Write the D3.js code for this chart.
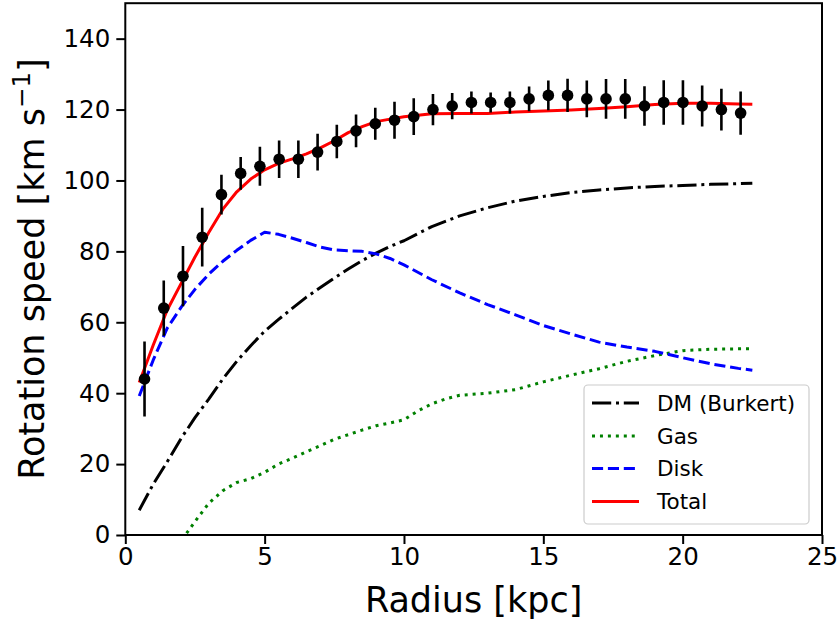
<!DOCTYPE html>
<html><head><meta charset="utf-8">
<script src="https://cdn.jsdelivr.net/npm/d3@7"></script>
<style>body{margin:0;background:#fff;} svg{display:block;font-family:"DejaVu Sans",sans-serif;}</style>
</head><body>
<script>
// Observed data
const obsR = [0.69,1.38,2.07,2.76,3.45,4.14,4.83,5.52,6.21,6.90,7.59,8.28,8.97,9.66,10.35,11.04,11.73,12.42,13.11,13.80,14.49,15.18,15.87,16.56,17.25,17.94,18.63,19.32,20.01,20.70,21.39,22.08];
const obsV = [44,64,73,84,96,102,104,106,106,108,111,114,116,117,118,120,121,122,122,122,123,124,124,123,123,123,121,122,122,121,120,119];
const obsErr = [10.6,7.8,8.5,8.3,5.6,4.6,5.5,5.3,5.3,5.2,4.7,4.6,4.5,5.2,5.2,4.4,3.7,3.1,2.8,3.1,3.5,4.2,4.7,5.2,5.6,5.6,5.6,6.3,6.3,5.8,5.9,6.1];

// Model curves
const modelR = [0.5,1.0,1.5,2.0,2.5,3.0,3.5,4.0,4.5,5.0,5.5,6.0,6.5,7.0,7.5,8.0,8.5,9.0,9.5,10,11,12,13,14,15,16,17,18,19,20,21,22,22.5];
const vDM    = [7.0,14.3,20.6,27.2,33.1,38.4,44.0,49.0,53.4,57.5,60.8,64.0,67.1,69.8,72.5,75.0,77.4,79.5,81.4,83.0,87.0,90.0,92.3,94.2,95.5,96.6,97.3,97.9,98.3,98.6,98.9,99.1,99.2];
const vDisk  = [39.2,49.3,58.3,64.2,69.3,73.6,77.2,80.3,83.1,85.4,84.8,83.7,82.5,81.2,80.4,80.2,80.0,79.3,78.0,76.2,72.0,68.3,65.0,62.1,59.1,56.7,54.4,53.0,51.8,50.0,48.3,47.0,46.5];
const vTotal = [43.0,53.5,63.4,70.9,78.4,85.4,91.9,96.8,100.4,103.0,104.8,106.1,107.5,109.2,111.2,113.5,115.2,116.6,117.3,118.0,118.8,118.9,118.9,119.3,119.6,119.9,120.3,120.8,121.4,121.8,121.8,121.6,121.5];
const gasR   = [2.2,2.5,3.0,3.5,4.0,4.5,5.0,5.5,6.0,6.5,7.0,7.5,8.0,8.5,9.0,9.5,10,10.5,11,11.5,12,13,14,15,16,17,18,19,20,21,22,22.5];
const vGas   = [0.5,3.8,9.0,12.5,14.8,15.9,17.7,20.0,21.7,23.5,25.2,27.0,28.3,29.6,30.8,31.6,32.5,35.0,37.0,38.4,39.4,40.0,41.0,43.2,45.1,46.9,49.0,50.6,52.0,52.4,52.5,52.5];

const xTicks = [0,5,10,15,20,25];
const yTicks = [0,20,40,60,80,100,120,140];
const legendLabels = ["DM (Burkert)","Gas","Disk","Total"];

const W=840,H=622;
const L=125.3,R=822,T=3.2,B=535;
const svg=d3.select("body").append("svg").attr("width",W).attr("height",H);
const x=d3.scaleLinear().domain([0,25]).range([L,R]);
const y=d3.scaleLinear().domain([0,150]).range([B,T]);

const line=(xs,ys)=>d3.line().x((d,i)=>x(xs[i])).y(d=>y(d))(ys);

const curves=[
 {xs:modelR,ys:vDM,color:"#000000",dash:"19.2,4.8,3,4.8"},
 {xs:gasR,ys:vGas,color:"#008000",dash:"3,4.95"},
 {xs:modelR,ys:vDisk,color:"#0000ff",dash:"11.1,4.8"},
 {xs:modelR,ys:vTotal,color:"#ff0000",dash:null}
];
const clip=svg.append("clipPath").attr("id","c").append("rect").attr("x",L).attr("y",T).attr("width",R-L).attr("height",B-T);
const g=svg.append("g").attr("clip-path","url(#c)");
curves.forEach(c=>{
  const p=g.append("path").attr("d",line(c.xs,c.ys)).attr("fill","none").attr("stroke",c.color).attr("stroke-width",3).attr("stroke-linejoin","round");
  if(c.dash) p.attr("stroke-dasharray",c.dash);
});

// error bars and points
g.selectAll("line.err").data(obsV).enter().append("line")
 .attr("x1",(d,i)=>x(obsR[i])).attr("x2",(d,i)=>x(obsR[i]))
 .attr("y1",(d,i)=>y(d-obsErr[i])).attr("y2",(d,i)=>y(d+obsErr[i]))
 .attr("stroke","#000").attr("stroke-width",2.6);
g.selectAll("circle").data(obsV).enter().append("circle")
 .attr("cx",(d,i)=>x(obsR[i])).attr("cy",d=>y(d)).attr("r",5.8).attr("fill","#000");

// axes
const xa=svg.append("g").attr("transform",`translate(0,${B})`).call(d3.axisBottom(x).tickValues(xTicks).tickSize(9).tickPadding(4).tickFormat(d3.format("d")));
const ya=svg.append("g").attr("transform",`translate(${L},0)`).call(d3.axisLeft(y).tickValues(yTicks).tickSize(9).tickPadding(6).tickFormat(d3.format("d")));
[xa,ya].forEach(a=>{
  a.select(".domain").remove();
  a.selectAll(".tick line").attr("stroke","#000").attr("stroke-width",2);
  a.selectAll(".tick text").attr("font-size",24.5).attr("fill","#000").attr("font-family","DejaVu Sans");
});
xa.selectAll(".tick text").attr("dy","0.71em");
svg.append("rect").attr("x",L).attr("y",T).attr("width",R-L).attr("height",B-T).attr("fill","none").attr("stroke","#000").attr("stroke-width",2);

// labels
svg.append("text").attr("x",(L+R)/2).attr("y",612).attr("text-anchor","middle").attr("font-size",35).text("Radius [kpc]");
const yl=svg.append("text").attr("transform",`translate(44,${(T+B)/2}) rotate(-90)`).attr("text-anchor","middle").attr("font-size",35);
yl.append("tspan").text("Rotation speed [km s");
yl.append("tspan").attr("font-size",24.5).attr("dy",-14).text("\u22121");
yl.append("tspan").attr("dy",14).text("]");

// legend
const lg=svg.append("g");
lg.append("rect").attr("x",584).attr("y",385).attr("width",225).attr("height",139).attr("rx",4)
 .attr("fill","#fff").attr("fill-opacity",0.8).attr("stroke","#cccccc").attr("stroke-width",1.2);
const rowsY=[403,436,468.5,501.5];
curves.forEach((c,i)=>{
  const l=lg.append("line").attr("x1",592).attr("x2",639).attr("y1",rowsY[i]).attr("y2",rowsY[i]).attr("stroke",c.color).attr("stroke-width",3);
  if(c.dash) l.attr("stroke-dasharray",c.dash);
  lg.append("text").attr("x",657).attr("y",rowsY[i]+7.7).attr("font-size",21.5).attr("fill","#000").text(legendLabels[i]);
});
</script>
</body></html>
